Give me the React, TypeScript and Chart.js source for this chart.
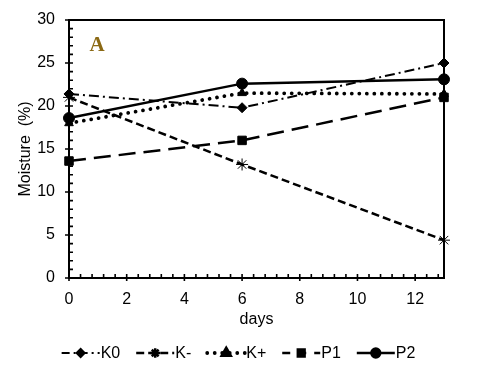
import React, { useEffect, useRef } from 'react';
import { Chart, registerables } from 'chart.js';
import { drawPoint } from 'chart.js/helpers';

Chart.register(...registerables);

// ---- data ----
const days = [0, 6, 13];
const k0 = [21.4, 19.8, 25.0];
const kMinus = [21.0, 13.2, 4.4];
const kPlus = [18.0, 21.5, 21.4];
const p1 = [13.6, 16.0, 21.0];
const p2 = [18.6, 22.6, 23.1];
const seriesNames = ['K0', 'K-', 'K+', 'P1', 'P2'];
const xTickValues = [0, 2, 4, 6, 8, 10, 12];
const yTickValues = [0, 5, 10, 15, 20, 25, 30];
const xMinorStep = 0.4;
const yMinorStep = 1;
const panelLabel = 'A';
const xTitle = 'days';
const yTitle = 'Moisture  (%)';

// ---- styles ----
const FONT = "'Liberation Sans', Arial, sans-serif";
const FSIZE = 16;
const seriesStyles = [
  { dash: [10, 4, 2, 4], width: 2, pointStyle: 'rectRot', radius: 5, pbw: 1, cap: 'butt' },
  { dash: [8, 4], width: 2.5, pointStyle: 'star', radius: 6, pbw: 1, cap: 'butt' },
  { dash: [0.01, 7.5], width: 3.8, pointStyle: 'triangle', radius: 5, pbw: 1, cap: 'round' },
  { dash: [17, 8], width: 2.5, pointStyle: 'rect', radius: 6, pbw: 1, cap: 'butt' },
  { dash: [], width: 2.5, pointStyle: 'circle', radius: 5.5, pbw: 1, cap: 'butt' },
];
const seriesValues = [k0, kMinus, kPlus, p1, p2];

const decorPlugin = {
  id: 'decor',
  beforeDatasetsDraw(chart: any) {
    const { ctx, chartArea: a, scales } = chart;
    const xs = scales.x;
    const ys = scales.y;
    ctx.save();
    ctx.strokeStyle = '#000';
    ctx.lineWidth = 2;
    ctx.strokeRect(a.left, a.top, a.right - a.left, a.bottom - a.top);
    ctx.lineWidth = 1.6;
    ctx.beginPath();
    for (let i = 0; i * xMinorStep <= xs.max + 1e-9; i++) {
      const v = Math.round(i * xMinorStep * 1000) / 1000;
      const px = xs.getPixelForValue(v);
      const isMajor = xTickValues.some((t) => Math.abs(t - v) < 1e-6);
      if (isMajor) {
        ctx.moveTo(px, a.bottom - 4);
        ctx.lineTo(px, a.bottom + 3);
      } else {
        ctx.moveTo(px, a.bottom - 4);
        ctx.lineTo(px, a.bottom);
      }
    }
    for (let i = 0; i * yMinorStep <= ys.max + 1e-9; i++) {
      const v = i * yMinorStep;
      const py = ys.getPixelForValue(v);
      const isMajor = yTickValues.some((t) => Math.abs(t - v) < 1e-6);
      if (isMajor) {
        ctx.moveTo(a.left - 4, py);
        ctx.lineTo(a.left + 4, py);
      } else {
        ctx.moveTo(a.left, py);
        ctx.lineTo(a.left + 4, py);
      }
    }
    ctx.stroke();
    ctx.restore();
  },
  afterDraw(chart: any) {
    const { ctx, chartArea: a, width } = chart;
    ctx.save();
    ctx.fillStyle = '#8B6914';
    ctx.font = "bold 21px 'Liberation Serif', 'Times New Roman', serif";
    ctx.textAlign = 'center';
    ctx.textBaseline = 'alphabetic';
    ctx.fillText(panelLabel, a.left + 28, a.top + 31);

    ctx.font = `${FSIZE}px ${FONT}`;
    const sample = 38;
    const gapText = 1;
    const gapItem = 16;
    const items = seriesNames.map((n) => ({ n, w: ctx.measureText(n).width }));
    const total = items.reduce((s, it) => s + sample + gapText + it.w, 0) + gapItem * (items.length - 1);
    let x = (width - total) / 2;
    const y = 353;
    items.forEach((it, i) => {
      const st = seriesStyles[i];
      ctx.strokeStyle = '#000';
      ctx.lineWidth = st.width;
      ctx.lineCap = st.cap;
      ctx.setLineDash(st.dash.length ? [Math.min(st.dash[0], 8), ...st.dash.slice(1)] : []);
      ctx.beginPath();
      ctx.moveTo(x, y);
      ctx.lineTo(x + sample, y);
      ctx.stroke();
      ctx.setLineDash([]);
      ctx.lineCap = 'butt';
      ctx.fillStyle = '#000';
      drawPoint(ctx, { pointStyle: st.pointStyle, radius: st.radius * 0.8, borderWidth: st.pbw, rotation: 0 }, x + sample / 2, y);
      ctx.fillStyle = '#000';
      ctx.textAlign = 'left';
      ctx.textBaseline = 'middle';
      ctx.fillText(it.n, x + sample + gapText, y + 1);
      x += sample + gapText + it.w + gapItem;
    });
    ctx.restore();
  },
};

export default function App() {
  const ref = useRef<HTMLCanvasElement | null>(null);
  useEffect(() => {
    const canvas = ref.current;
    if (!canvas) return;
    const datasets = seriesNames.map((name, i) => {
      const st = seriesStyles[i];
      return {
        label: name,
        data: days.map((d, j) => ({ x: d, y: seriesValues[i][j] })),
        borderColor: '#000',
        backgroundColor: '#000',
        borderWidth: st.width,
        borderDash: st.dash,
        borderCapStyle: st.cap,
        pointStyle: st.pointStyle,
        pointRadius: st.radius,
        pointBorderWidth: st.pbw,
        pointBackgroundColor: '#000',
        pointBorderColor: '#000',
        tension: 0,
        fill: false,
        clip: false,
      };
    });
    const chart = new Chart(canvas, {
      type: 'line',
      data: { datasets },
      plugins: [decorPlugin],
      options: {
        responsive: false,
        animation: false,
        devicePixelRatio: 1,
        layout: { padding: { left: 0, top: 20, right: 33, bottom: 40 } },
        plugins: { legend: { display: false }, tooltip: { enabled: false } },
        scales: {
          x: {
            type: 'linear',
            min: 0,
            max: 13,
            afterBuildTicks: (s: any) => { s.ticks = xTickValues.map((v) => ({ value: v })); },
            afterFit: (s: any) => { s.height = 52; },
            grid: { display: false },
            border: { display: false },
            ticks: { color: '#000', padding: 4, maxRotation: 0, font: { family: FONT, size: FSIZE } },
            title: { display: true, text: xTitle, color: '#000', padding: { top: 0, bottom: 1 }, font: { family: FONT, size: FSIZE } },
          },
          y: {
            type: 'linear',
            min: 0,
            max: 30,
            afterBuildTicks: (s: any) => { s.ticks = yTickValues.map((v) => ({ value: v })); },
            afterFit: (s: any) => { s.width = 69; },
            grid: { display: false },
            border: { display: false },
            ticks: { color: '#000', padding: 6, font: { family: FONT, size: FSIZE } },
            title: { display: true, text: yTitle, color: '#000', padding: { top: 16, bottom: 0 }, font: { family: FONT, size: FSIZE } },
          },
        },
      },
    } as any);
    return () => chart.destroy();
  }, []);
  return (
    <div style={{ position: 'fixed', left: 0, top: 0, width: 477, height: 370, background: '#fff' }}>
      <canvas ref={ref} width={477} height={370} style={{ display: 'block' }} />
    </div>
  );
}
